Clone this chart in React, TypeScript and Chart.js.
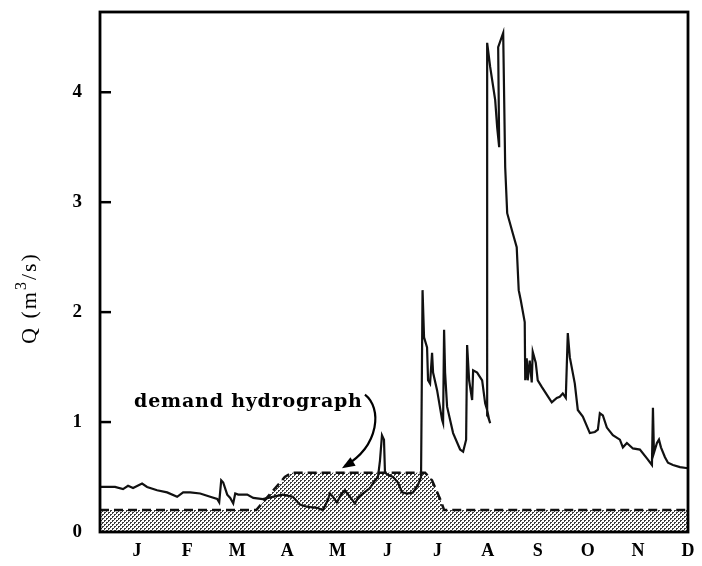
import React, { useEffect, useRef } from "react";
import { Chart, registerables } from "chart.js";

Chart.register(...registerables);

// Month labels along the bottom axis (J = 0 ... D = 11)
const MONTH_LABELS = ["J", "F", "M", "A", "M", "J", "J", "A", "S", "O", "N", "D"];
const Y_TICKS = [0, 1, 2, 3, 4];

// Observed streamflow, time in months (J = 0) and Q in m3/s
const flowMonth = [
  -0.74, -0.44, -0.28, -0.18, -0.08, 0.1, 0.2, 0.4, 0.6, 0.8, 0.92, 1.06, 1.26, 1.46, 1.6, 1.64,
  1.68, 1.72, 1.8, 1.86, 1.92, 1.96, 2.02, 2.2, 2.32, 2.51, 2.71, 2.91, 3.11, 3.25, 3.39, 3.59,
  3.71, 3.81, 3.85, 3.91, 3.99, 4.09, 4.15, 4.25, 4.35, 4.41, 4.51, 4.65, 4.75, 4.81, 4.85, 4.89,
  4.93, 4.95, 5.01, 5.11, 5.21, 5.29, 5.39, 5.51, 5.61, 5.67, 5.7, 5.73, 5.79, 5.81, 5.85, 5.89,
  5.91, 5.99, 6.09, 6.11, 6.13, 6.15, 6.19, 6.31, 6.45, 6.51, 6.57, 6.59, 6.63, 6.69, 6.71, 6.79,
  6.89, 6.95, 6.99, 7.03, 7.05, 7.0, 6.99, 7.05, 7.15, 7.19, 7.23, 7.21, 7.31, 7.33, 7.35, 7.39,
  7.5, 7.58, 7.62, 7.66, 7.74, 7.75, 7.78, 7.8, 7.84, 7.88, 7.9, 7.96, 8.0, 8.08, 8.18, 8.28,
  8.38, 8.44, 8.5, 8.56, 8.6, 8.64, 8.74, 8.8, 8.9, 9.04, 9.14, 9.2, 9.24, 9.3, 9.38, 9.5,
  9.64, 9.7, 9.78, 9.9, 10.04, 10.18, 10.28, 10.3, 10.32, 10.38, 10.42, 10.46, 10.54, 10.6, 10.7, 10.84,
  11.0,
];
const flowQ = [
  0.41, 0.41, 0.39, 0.42, 0.4, 0.44, 0.41, 0.38, 0.36, 0.32, 0.36, 0.36, 0.35, 0.32, 0.3, 0.27,
  0.47, 0.45, 0.34, 0.31, 0.26, 0.35, 0.34, 0.34, 0.31, 0.3, 0.32, 0.34, 0.32, 0.25, 0.23, 0.22,
  0.2, 0.29, 0.35, 0.32, 0.27, 0.35, 0.38, 0.32, 0.26, 0.31, 0.35, 0.4, 0.47, 0.5, 0.65, 0.88,
  0.84, 0.54, 0.52, 0.5, 0.45, 0.36, 0.35, 0.36, 0.43, 0.5, 2.2, 1.77, 1.68, 1.38, 1.35, 1.63,
  1.45, 1.29, 1.02, 0.99, 1.84, 1.45, 1.14, 0.9, 0.75, 0.73, 0.84, 1.7, 1.38, 1.2, 1.47, 1.45,
  1.38, 1.17, 1.11, 1.02, 0.99, 1.06, 4.45, 4.23, 3.93, 3.68, 3.5, 4.41, 4.54, 3.93, 3.32, 2.9,
  2.72, 2.59, 2.2, 2.11, 1.91, 1.38, 1.58, 1.38, 1.56, 1.36, 1.64, 1.54, 1.38, 1.32, 1.25, 1.18,
  1.22, 1.23, 1.26, 1.22, 1.81, 1.59, 1.35, 1.11, 1.05, 0.9, 0.91, 0.93, 1.08, 1.06, 0.95, 0.88,
  0.84, 0.77, 0.81, 0.76, 0.75, 0.67, 0.61, 1.13, 0.72, 0.81, 0.84, 0.77, 0.68, 0.63, 0.61, 0.59,
  0.58,
];

// Demand hydrograph
const demandMonth = [-0.74, 2.38, 2.95, 3.09, 5.75, 5.89, 6.05, 6.13, 11.0];
const demandQ = [0.2, 0.2, 0.5, 0.54, 0.54, 0.47, 0.3, 0.2, 0.2];

// Annotation: label anchor and leader curve (month, Q)
const noteText = "demand hydrograph";
const noteAnchor = [-0.06, 1.14];
const arrowMonth = [4.55, 4.89, 4.85, 4.15];
const arrowQ = [1.25, 1.13, 0.79, 0.6];
const arrowTip = [4.09, 0.58];

function makeStipple(): CanvasPattern | string {
  const tile = document.createElement("canvas");
  tile.width = 4;
  tile.height = 4;
  const c = tile.getContext("2d");
  if (!c) return "#aaa";
  c.fillStyle = "#ffffff";
  c.fillRect(0, 0, 4, 4);
  c.fillStyle = "#3c3c3c";
  c.fillRect(0, 0, 2, 1);
  c.fillRect(0, 1, 1, 1);
  c.fillRect(2, 2, 2, 1);
  c.fillRect(2, 3, 1, 1);
  const p = c.createPattern(tile, "repeat");
  return p || "#aaa";
}

const frameAndNotes = {
  id: "frameAndNotes",
  afterDraw(chart: any) {
    const { ctx, chartArea: a, scales } = chart;
    const xs = scales.x;
    const ys = scales.y;
    ctx.save();
    ctx.strokeStyle = "#000";
    ctx.fillStyle = "#000";

    // inward tick marks on the Q axis
    ctx.lineWidth = 2.5;
    Y_TICKS.forEach((v) => {
      if (v === 0) return;
      const py = ys.getPixelForValue(v);
      ctx.beginPath();
      ctx.moveTo(a.left, py);
      ctx.lineTo(a.left + 11, py);
      ctx.stroke();
    });

    // plot frame
    ctx.lineWidth = 2.8;
    ctx.strokeRect(a.left, a.top, a.right - a.left, a.bottom - a.top);

    // axis title, rotated
    ctx.save();
    ctx.translate(30, 298);
    ctx.rotate(-Math.PI / 2);
    ctx.textBaseline = "middle";
    ctx.textAlign = "left";
    (ctx as any).letterSpacing = "2px";
    const big = '22px "Liberation Serif", serif';
    const small = '16px "Liberation Serif", serif';
    ctx.font = big;
    const p1 = "Q (m";
    const p3 = "/s)";
    const w1 = ctx.measureText(p1).width;
    const w3 = ctx.measureText(p3).width;
    ctx.font = small;
    const w2 = ctx.measureText("3").width;
    const total = w1 + w2 + w3;
    let x = -total / 2;
    ctx.font = big;
    ctx.fillText(p1, x, 0);
    x += w1;
    ctx.font = small;
    ctx.fillText("3", x, -8);
    x += w2;
    ctx.font = big;
    ctx.fillText(p3, x, 0);
    ctx.restore();

    // annotation label
    ctx.save();
    ctx.font = 'bold 19px "DejaVu Serif", serif';
    (ctx as any).letterSpacing = "0.8px";
    ctx.textAlign = "left";
    ctx.textBaseline = "alphabetic";
    ctx.fillText(noteText, xs.getPixelForValue(noteAnchor[0]), ys.getPixelForValue(noteAnchor[1]));
    ctx.restore();

    // leader curve with arrow head
    const px = arrowMonth.map((m) => xs.getPixelForValue(m));
    const py = arrowQ.map((q) => ys.getPixelForValue(q));
    ctx.lineWidth = 2.2;
    ctx.beginPath();
    ctx.moveTo(px[0], py[0]);
    ctx.bezierCurveTo(px[1], py[1], px[2], py[2], px[3], py[3]);
    ctx.stroke();
    const tx = xs.getPixelForValue(arrowTip[0]);
    const ty = ys.getPixelForValue(arrowTip[1]);
    const ang = Math.atan2(ty - py[2], tx - px[2]);
    const len = 13;
    const half = 5;
    const bx = tx - len * Math.cos(ang);
    const by = ty - len * Math.sin(ang);
    ctx.beginPath();
    ctx.moveTo(tx, ty);
    ctx.lineTo(bx + half * Math.sin(ang), by - half * Math.cos(ang));
    ctx.lineTo(bx - half * Math.sin(ang), by + half * Math.cos(ang));
    ctx.closePath();
    ctx.fill();

    ctx.restore();
  },
};

export default function App() {
  const canvasRef = useRef<HTMLCanvasElement | null>(null);

  useEffect(() => {
    if (!canvasRef.current) return;
    const stipple = makeStipple();
    const flow = flowMonth.map((m, i) => ({ x: m, y: flowQ[i] }));
    const demand = demandMonth.map((m, i) => ({ x: m, y: demandQ[i] }));

    const chart = new Chart(canvasRef.current, {
      type: "line",
      data: {
        datasets: [
          {
            label: "Q",
            data: flow,
            borderColor: "#111",
            borderWidth: 2.2,
            pointRadius: 0,
            fill: false,
            tension: 0,
          },
          {
            label: "demand hydrograph",
            data: demand,
            borderColor: "#111",
            borderWidth: 2.5,
            borderDash: [9, 5],
            pointRadius: 0,
            fill: "origin",
            backgroundColor: stipple as any,
            tension: 0,
          },
        ],
      },
      options: {
        animation: false,
        responsive: true,
        maintainAspectRatio: false,
        layout: { padding: { top: 12, right: 14, bottom: 0, left: 0 } },
        plugins: { legend: { display: false }, tooltip: { enabled: false } },
        scales: {
          x: {
            type: "linear",
            min: -0.74,
            max: 11,
            grid: { display: false },
            border: { display: false },
            afterBuildTicks: (scale: any) => {
              scale.ticks = MONTH_LABELS.map((_, i) => ({ value: i }));
            },
            afterFit: (scale: any) => {
              scale.height = 34;
              scale.paddingLeft = 0;
              scale.paddingRight = 0;
            },
            ticks: {
              autoSkip: false,
              maxRotation: 0,
              minRotation: 0,
              padding: 1,
              color: "#000",
              font: { family: '"Liberation Serif", serif', size: 18, weight: "bold" },
              callback: (_v: any, i: number) => MONTH_LABELS[i],
            },
          },
          y: {
            type: "linear",
            min: 0,
            max: 4.73,
            grid: { display: false },
            border: { display: false },
            afterBuildTicks: (scale: any) => {
              scale.ticks = Y_TICKS.map((v) => ({ value: v }));
            },
            afterFit: (scale: any) => {
              scale.width = 100;
              scale.paddingTop = 0;
              scale.paddingBottom = 0;
            },
            ticks: {
              padding: 10,
              color: "#000",
              font: { family: '"Liberation Serif", serif', size: 19, weight: "bold" },
              callback: (v: any) => String(v),
            },
          },
        },
      },
      plugins: [frameAndNotes],
    });
    return () => chart.destroy();
  }, []);

  return (
    <div style={{ position: "absolute", left: 0, top: 0, width: 702, height: 566, background: "#fff" }}>
      <canvas ref={canvasRef} />
    </div>
  );
}
